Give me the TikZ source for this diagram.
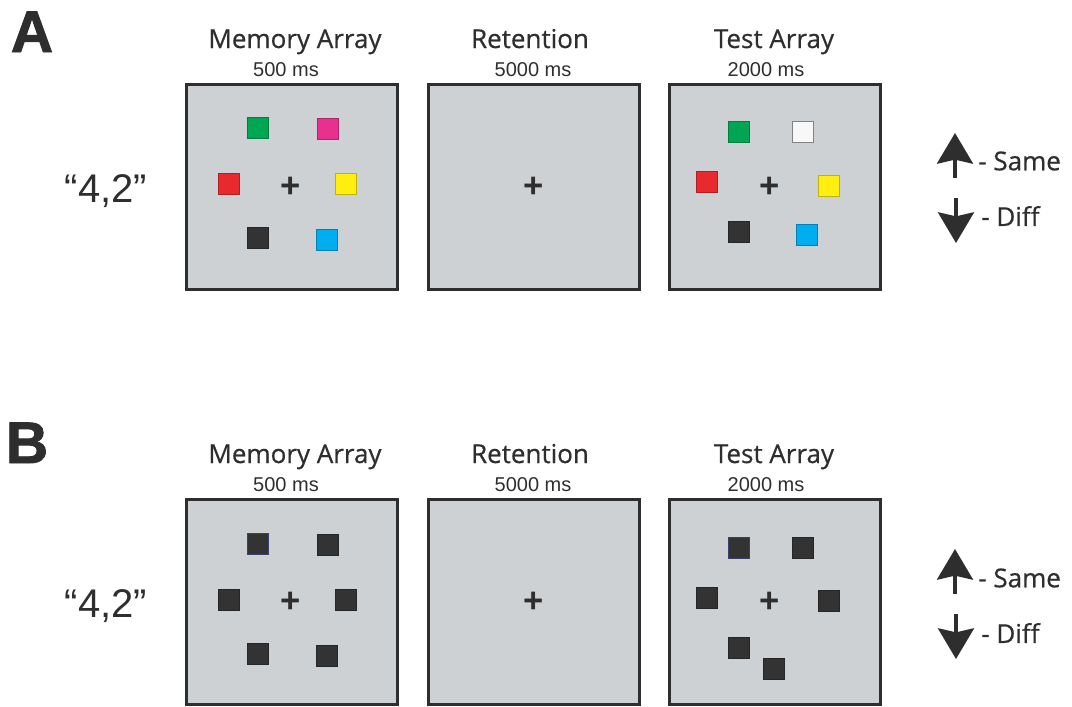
\documentclass[tikz,border=0pt]{standalone}
\usepackage{fontspec}
\setmainfont{Open Sans}
\newfontfamily\medium[FakeBold=0.6]{Open Sans}
\newfontfamily\helv{Liberation Sans}
\newfontfamily\heavy[FakeBold=1.5]{Liberation Sans}
\usepackage{xcolor}
\definecolor{ink}{HTML}{2E2E2E}
\definecolor{screen}{HTML}{CED1D3}
\definecolor{sqgreen}{HTML}{00A651}
\definecolor{sqpink}{HTML}{E8308F}
\definecolor{sqred}{HTML}{E82A2E}
\definecolor{sqyellow}{HTML}{FFEE10}
\definecolor{sqblack}{HTML}{333333}
\definecolor{sqblue}{HTML}{00AEEF}
\definecolor{sqwhite}{HTML}{F8F8F8}
\definecolor{navy}{HTML}{3A3F70}
\usetikzlibrary{arrows.meta, positioning}
\tikzset{
  display/.style={draw=ink, fill=screen, line width=2.2pt, minimum width=158pt, minimum height=154pt, inner sep=0pt},
  title/.style={font=\medium\fontsize{19.5}{21}\selectfont, text=ink, anchor=base},
  dur/.style={font=\helv\fontsize{15}{16}\selectfont, text=ink, anchor=base},
  item/.style={draw=#1!75!black, fill=#1, line width=0.6pt, minimum size=15.5pt, inner sep=0pt},
  fix/.style={font=\helv\bfseries\fontsize{26}{26}\selectfont, text=ink, inner sep=0pt},
  resp/.style={-{Stealth[length=23pt, width=27pt, inset=3pt]}, line width=2.6pt, draw=ink},
  key/.style={font=\medium\fontsize{19.5}{21}\selectfont, text=ink, anchor=west, inner sep=0pt},
}

\begin{document}
\begin{tikzpicture}[x=0.75pt, y=-0.75pt,
    panel/.style={font=\heavy\bfseries\fontsize{44}{44}\selectfont, text=ink, anchor=base},
    cue/.style={font=\helv\fontsize{30}{30}\selectfont, text=ink, anchor=base}]

  \useasboundingbox (0,0) rectangle (1072,707);

  % ---- A: coloured squares
  \node[panel] (labA) at (32,52) {A};
  \node[cue] (cueA) at (106,202) {“4,2”};

  \node[display] (memA) at (292,187) {};
  \node[display] (retA) at (534,187) {};
  \node[display] (tstA) at (775,187) {};

  \node[title] (tmemA) at (295,48) {Memory Array};
  \node[title] (tretA) at (530,48) {Retention};
  \node[title] (ttstA) at (774,48) {Test Array};
  \node[dur] (dmemA) at (286,76) {500 ms};
  \node[dur] (dretA) at (533,76) {5000 ms};
  \node[dur] (dtstA) at (766,76) {2000 ms};

  \node[item=sqgreen]  (mA1) at (258,128) {};
  \node[item=sqpink]   (mA2) at (328,129) {};
  \node[item=sqred]    (mA3) at (229,184) {};
  \node[item=sqyellow] (mA4) at (346,184) {};
  \node[item=sqblack]  (mA5) at (258,238) {};
  \node[item=sqblue]   (mA6) at (327,240) {};
  \node[fix] (fmA) at (291,187) {+};

  \node[fix] (frA) at (534,187) {+};

  \node[item=sqgreen]  (tA1) at (739,132) {};
  \node[item=sqwhite, draw=ink!60] (tA2) at (803,132) {};
  \node[item=sqred]    (tA3) at (707,182) {};
  \node[item=sqyellow] (tA4) at (829,186) {};
  \node[item=sqblack]  (tA5) at (739,232) {};
  \node[item=sqblue]   (tA6) at (807,235) {};
  \node[fix] (ftA) at (770,187) {+};

  % response keys
  \coordinate (upA0) at (955,178);
  \coordinate (upA1) at (955,133);
  \coordinate (dnA0) at (956,198);
  \coordinate (dnA1) at (956,243);
  \draw[resp] (upA0) -- (upA1);
  \draw[resp] (dnA0) -- (dnA1);
  \node[key] (sameA) at (978,161) {- Same};
  \node[key] (diffA) at (981,216) {- Diff};

  % ---- B: all squares black
  \node[panel] (labB) at (27,463) {B};
  \node[cue] (cueB) at (106,617) {“4,2”};

  \node[display] (memB) at (292,602) {};
  \node[display] (retB) at (534,602) {};
  \node[display] (tstB) at (775,602) {};

  \node[title] (tmemB) at (295,463) {Memory Array};
  \node[title] (tretB) at (530,463) {Retention};
  \node[title] (ttstB) at (774,463) {Test Array};
  \node[dur] (dmemB) at (286,491) {500 ms};
  \node[dur] (dretB) at (533,491) {5000 ms};
  \node[dur] (dtstB) at (766,491) {2000 ms};

  \node[item=sqblack, draw=navy] (mB1) at (258,544) {};
  \node[item=sqblack] (mB2) at (328,545) {};
  \node[item=sqblack] (mB3) at (229,600) {};
  \node[item=sqblack] (mB4) at (346,600) {};
  \node[item=sqblack] (mB5) at (258,654) {};
  \node[item=sqblack] (mB6) at (327,656) {};
  \node[fix] (fmB) at (291,602) {+};

  \node[fix] (frB) at (534,602) {+};

  \node[item=sqblack, draw=navy] (tB1) at (739,548) {};
  \node[item=sqblack] (tB2) at (803,548) {};
  \node[item=sqblack] (tB3) at (707,598) {};
  \node[item=sqblack] (tB4) at (829,601) {};
  \node[item=sqblack] (tB5) at (739,648) {};
  \node[item=sqblack] (tB6) at (774,669) {};
  \node[fix] (ftB) at (770,602) {+};

  \coordinate (upB0) at (955,594);
  \coordinate (upB1) at (955,549);
  \coordinate (dnB0) at (956,614);
  \coordinate (dnB1) at (956,659);
  \draw[resp] (upB0) -- (upB1);
  \draw[resp] (dnB0) -- (dnB1);
  \node[key] (sameB) at (978,578) {- Same};
  \node[key] (diffB) at (981,633) {- Diff};
\end{tikzpicture}
\end{document}
